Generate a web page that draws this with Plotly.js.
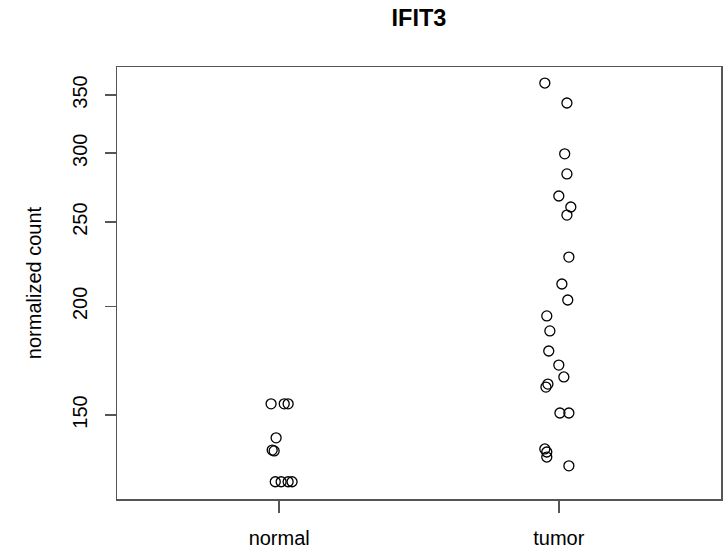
<!DOCTYPE html>
<html>
<head>
<meta charset="utf-8">
<script src="https://cdn.plot.ly/plotly-3.0.1.min.js"></script>
<style>html,body{margin:0;padding:0;background:#fff;}#chart{width:728px;height:549px;}</style>
</head>
<body>
<div id="chart"></div>
<script>
// Categories and tick labels
const categories = ["normal", "tumor"];
const tickValues = [150, 200, 250, 300, 350];

// normalized counts
const normalCounts = [154.5, 154.5, 154.5, 141.2, 136.7, 136.4, 125.7, 125.7, 125.7, 125.7];
const normalJitter = [-0.029, 0.018, 0.032, -0.011, -0.025, -0.018, -0.014, 0.007, 0.032, 0.046];

const tumorCounts = [361.3, 342.7, 299.5, 284.0, 267.9, 260.2, 254.7, 227.9, 212.2, 203.4,
                     195.0, 187.4, 177.7, 171.2, 165.9, 162.8, 161.5, 150.8, 150.8,
                     137.1, 136.0, 134.2, 131.1];
const tumorJitter = [-0.050, 0.029, 0.021, 0.029, 0.000, 0.043, 0.029, 0.036, 0.011, 0.032,
                     -0.043, -0.032, -0.036, 0.000, 0.018, -0.039, -0.046, 0.004, 0.036,
                     -0.050, -0.043, -0.043, 0.036];

const groups = [
  {counts: normalCounts, jitter: normalJitter, pos: 1},
  {counts: tumorCounts, jitter: tumorJitter, pos: 2}
];

const traces = groups.map(g => ({
  type: "scatter",
  mode: "markers",
  x: g.jitter.map(j => g.pos + j),
  y: g.counts,
  marker: {symbol: "circle-open", size: 10, color: "#000", line: {width: 1.3, color: "#000"}},
  hoverinfo: "y",
  showlegend: false
}));

const font = {family: "Liberation Sans, Arial, sans-serif", size: 20, color: "#000"};
const frame = "#555";

const layout = {
  width: 728, height: 549,
  margin: {l: 117, r: 7, t: 67, b: 50},
  paper_bgcolor: "#fff", plot_bgcolor: "#fff",
  font: font,
  title: {
    text: "<b>IFIT3</b>",
    font: {family: font.family, size: 23.5, color: "#000"},
    x: 0.5, xref: "paper", xanchor: "center",
    y: 1 - 17.5/549, yref: "container", yanchor: "middle"
  },
  xaxis: {
    range: [0.42, 2.58],
    tickvals: [1, 2], ticktext: categories,
    showgrid: false, zeroline: false,
    showline: true, mirror: true, linecolor: frame, linewidth: 1.5,
    ticks: "outside", ticklen: 12, tickwidth: 1.5, tickcolor: frame,
    ticklabelstandoff: 8,
    tickfont: font
  },
  yaxis: {
    type: "log",
    range: [2.0795, 2.5763],
    tickvals: tickValues, ticktext: tickValues.map(String),
    tickangle: -90,
    showgrid: false, zeroline: false,
    showline: true, mirror: true, linecolor: frame, linewidth: 1.5,
    ticks: "outside", ticklen: 11, tickwidth: 1.5, tickcolor: frame,
    ticklabelstandoff: 10,
    tickfont: font,
    title: {text: "normalized count", font: font, standoff: 21}
  }
};

Plotly.newPlot("chart", traces, layout, {staticPlot: true, displayModeBar: false});
</script>
</body>
</html>
